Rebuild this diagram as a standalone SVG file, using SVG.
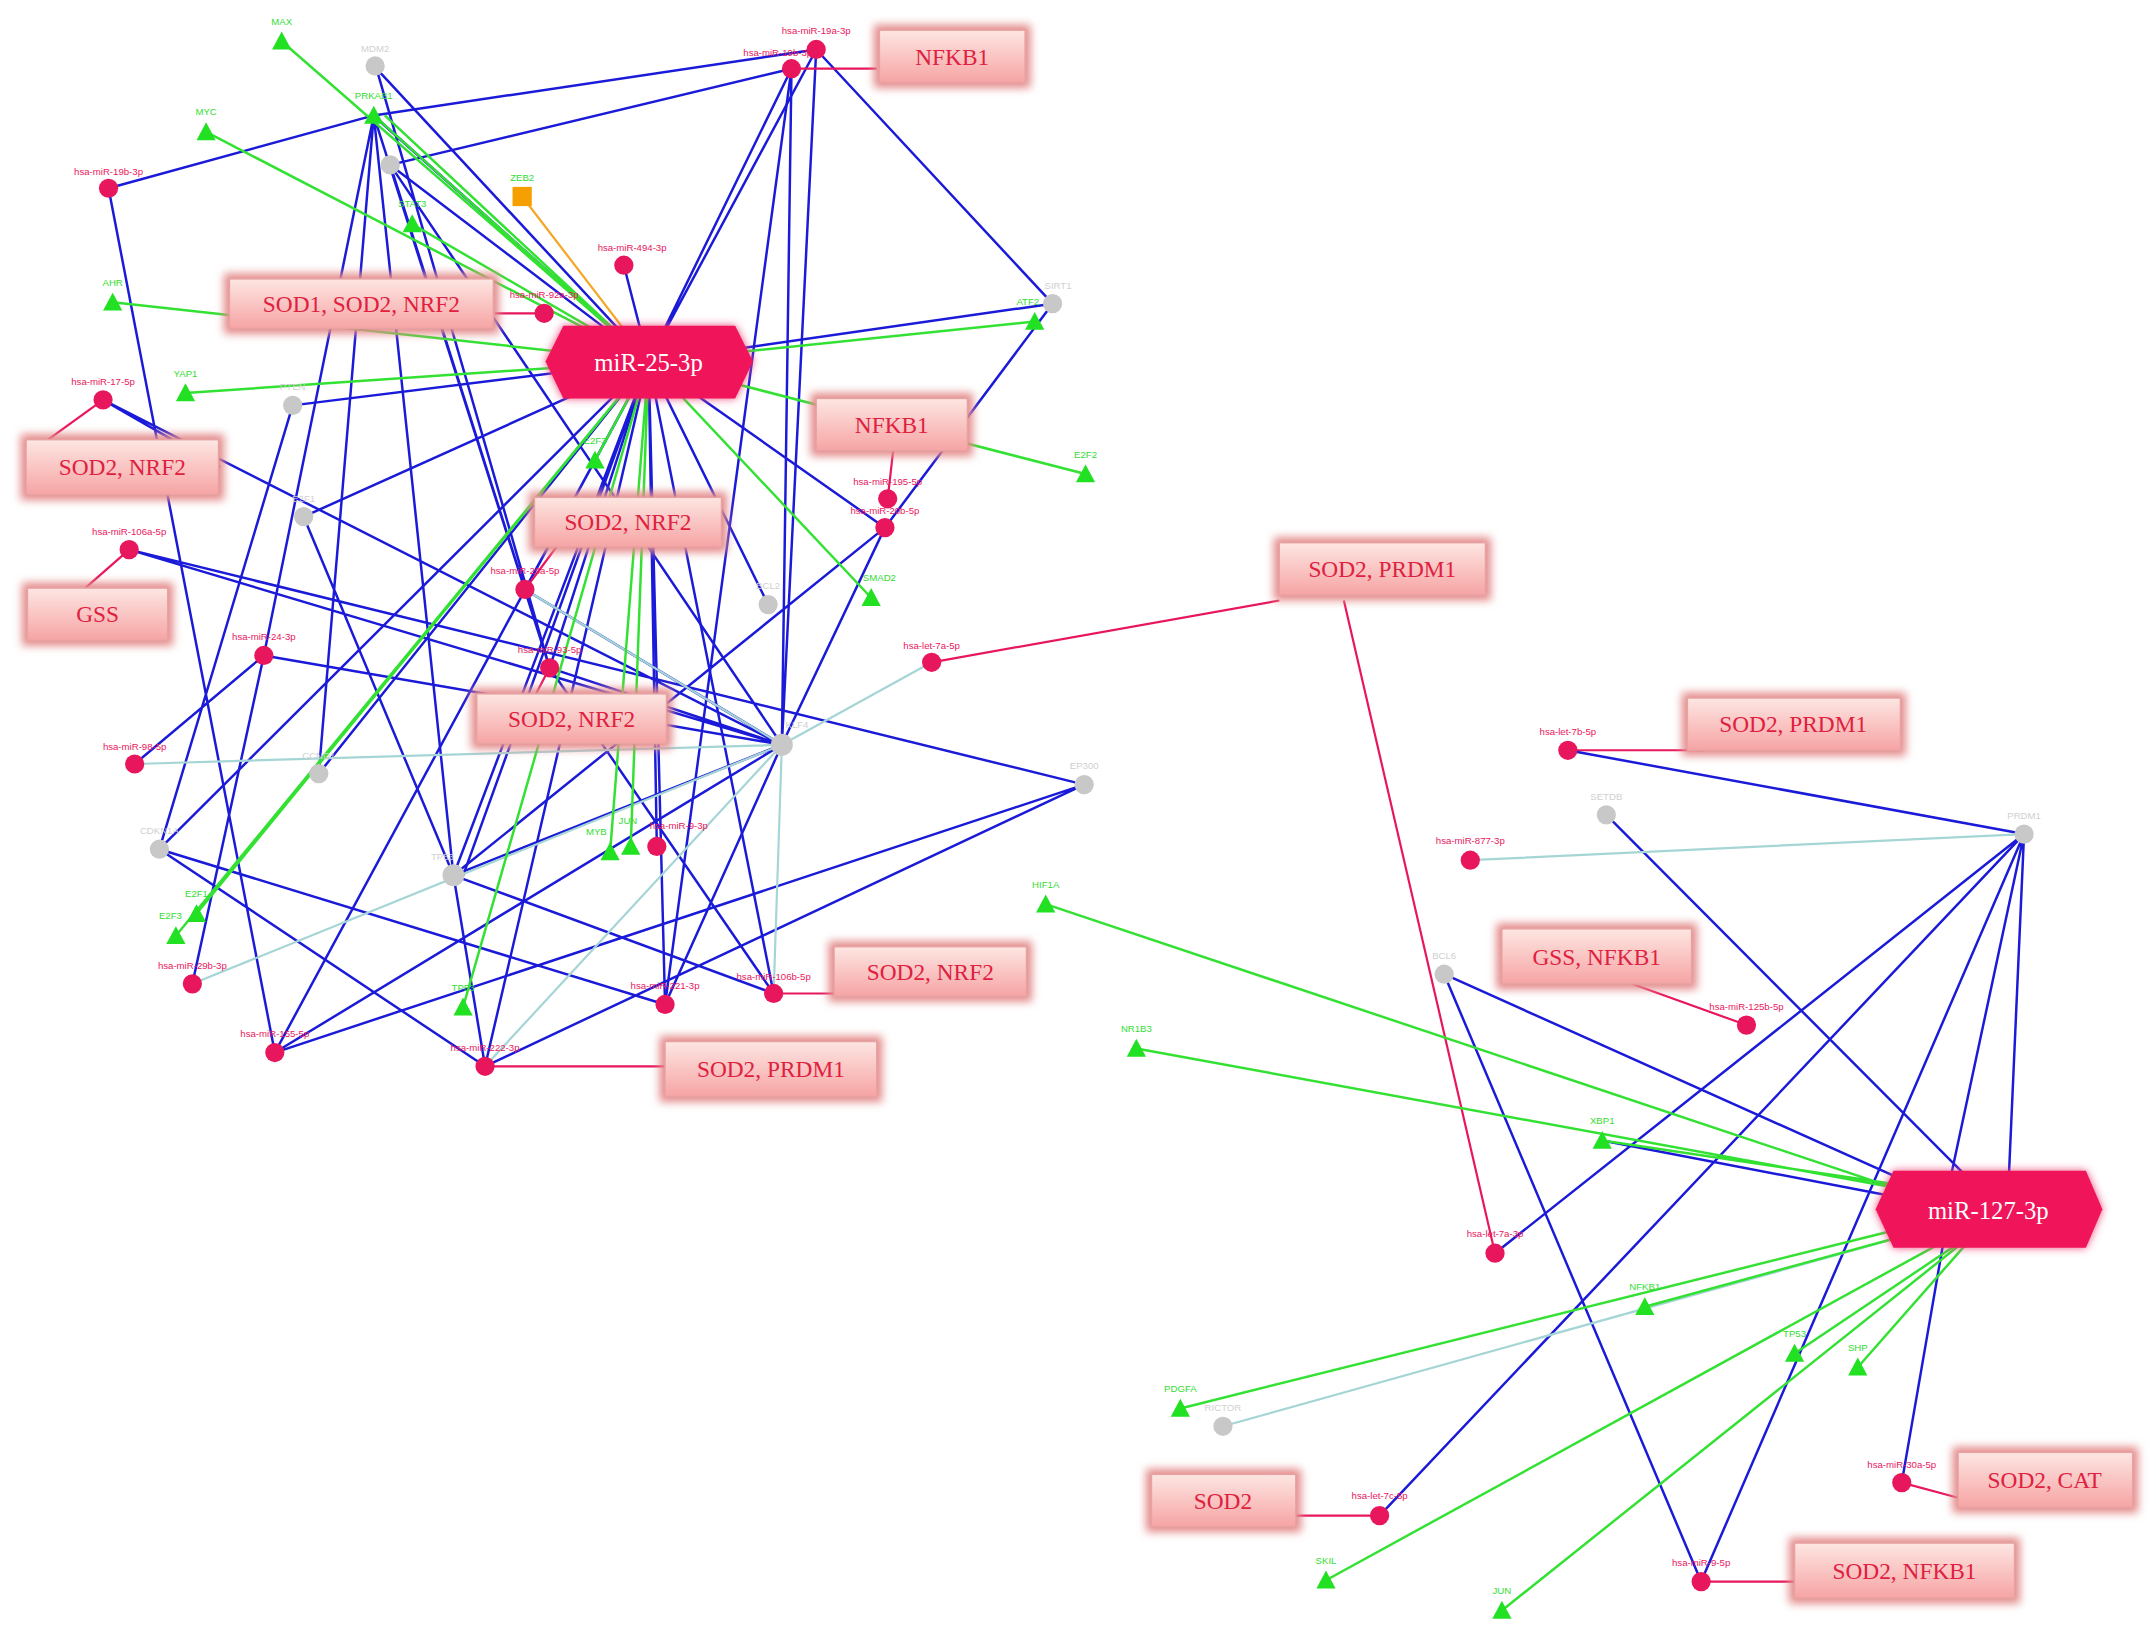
<svg xmlns="http://www.w3.org/2000/svg" width="2149" height="1635" viewBox="0 0 2149 1635">
<defs>
<linearGradient id="bx" x1="0" y1="0" x2="0" y2="1"><stop offset="0" stop-color="#fde6e2"/><stop offset="1" stop-color="#f6a4a4"/></linearGradient>
<filter id="glow" x="-20%" y="-40%" width="140%" height="180%"><feGaussianBlur stdDeviation="3"/></filter>
<style>
.b{stroke:#1a1ad8;stroke-width:1.8;fill:none}
.g{stroke:#33e133;stroke-width:1.8;fill:none}
.p{stroke:#e8175d;stroke-width:1.6;fill:none}
.l{stroke:#a6d5d5;stroke-width:1.6;fill:none}
.o{stroke:#f5a623;stroke-width:1.6;fill:none}
.bs{fill:#e48a8a;filter:url(#glow)}
.bf{fill:url(#bx);stroke:#e7a3a3;stroke-width:1}
.bt{font-family:"Liberation Serif",serif;font-size:17px;fill:#e0203f;text-anchor:middle}
.ht{font-family:"Liberation Serif",serif;font-size:18px;fill:#fff;text-anchor:middle}
.mi{fill:#e8175d}
.gr{fill:#c8c8c8}
.tf{fill:#22e022}
.sl{font-family:"Liberation Sans",sans-serif;font-size:7px;text-anchor:middle}
.sm{fill:#e8175d}.sg{fill:#d0d0d0}.st{fill:#33dd33}
</style>
</defs>
<g transform="scale(1.3741)">
<rect x="0" y="0" width="1564" height="1190" fill="#fff"/>
<g id="connectors">
<path class="b" d="M272,84L472,263M276,88L472,263M284,120L472,263M274,50L472,263M594,36L472,263M576,50L472,263M454,193L472,263M766,221L472,263M213,295L472,263M221,376L472,263M559,440L472,263M382,429L472,263M400,486L472,263M330,637L472,263M336,640L472,263M116,618L472,263M353,776L472,263M200,766L472,263M484,731L472,263M563,723L472,263M478,616L472,263M644,384L472,263M232,563L472,263"/>
<path class="b" d="M272,84L594,36M272,84L79,137M272,84L192,477M272,84L330,637M272,84L400,486M272,84L232,563M284,120L576,50M284,120L569,542M284,120L382,429M274,50L400,486M594,36L766,221M594,36L569,542M576,50L569,542M576,50L484,731M766,221L644,384M79,137L200,766M75,291L569,542M94,400L569,542M94,400L789,571M192,477L569,542M192,477L98,556M192,477L140,716M382,429L569,542M400,486L569,542M221,376L330,637M213,295L116,618M644,384L569,542M644,384L330,637M569,542L200,766M569,542L484,731M569,542L330,637M789,571L353,776M789,571L200,766M116,618L484,731M116,618L353,776M330,637L563,723M330,637L353,776M75,291L160,340M400,486L563,723"/>
<path class="l" d="M569,542L678,482M569,542L98,556M569,542L140,716M569,542L353,776M569,542L563,723M569,542L382,429"/>
<path class="o" d="M380,143L472,263"/>
<path class="g" d="M205,30L472,263M272,84L472,263M280,84L472,263M150,96L472,263M300,163L472,263M82,220L472,263M135,286L472,263M753,234L472,263M790,345L472,263M433,335L472,263M634,435L472,263M143,665L472,263M128,681L472,263M337,733L472,263M444,620L472,263M459,616L472,263"/>
<path class="p" d="M638,50L576,50M360,228L396,228M35,320L75,291M62,428L94,400M650,328L646,363M405,398L382,429M390,505L400,486M931,437L678,482M978,437L1088,912M607,723L563,723M484,776L353,776M1240,546L1141,546M1185,715L1271,746M1425,1090L1384,1079M943,1103L1004,1103M1306,1151L1238,1151"/>
<path class="b" d="M1473,607L1141,546M1473,607L1088,912M1473,607L1004,1103M1473,607L1238,1151M1473,607L1420,855M1473,607L1462,855M1169,593L1430,855M1051,709L1410,870M1051,709L1238,1151M1166,830L1400,875M1384,1079L1415,900"/>
<path class="l" d="M1473,607L1070,626M890,1038L1420,890"/>
<path class="g" d="M761,658L1410,875M827,763L1410,870M1166,830L1400,865M1197,951L1420,890M859,1025L1400,890M965,1150L1430,895M1093,1172L1440,895M1306,985L1440,895M1352,995L1440,895"/>
</g>
<g id="hub-miR-25-3p"><polygon points="397,263 410,237 535,237 548,263 535,290 410,290" fill="#ee4d7d" filter="url(#glow)"/><polygon points="397,263 410,237 535,237 548,263 535,290 410,290" fill="#f0145a"/><text class="ht" x="472" y="270">miR-25-3p</text></g>
<g id="hub-miR-127-3p"><polygon points="1365,880 1378,852 1518,852 1530,880 1518,908 1378,908" fill="#ee4d7d" filter="url(#glow)"/><polygon points="1365,880 1378,852 1518,852 1530,880 1518,908 1378,908" fill="#f0145a"/><text class="ht" x="1447" y="887">miR-127-3p</text></g>
<g id="boxes">
<g id="b1"><rect class="bs" x="636" y="18" width="114" height="46"/><rect class="bf" x="640" y="22" width="106" height="38"/><text class="bt" x="693" y="47">NFKB1</text></g>
<g id="b2"><rect class="bs" x="163" y="199" width="200" height="44"/><rect class="bf" x="167" y="203" width="192" height="36"/><text class="bt" x="263" y="227">SOD1, SOD2, NRF2</text></g>
<g id="b3"><rect class="bs" x="15" y="316" width="148" height="48"/><rect class="bf" x="19" y="320" width="140" height="40"/><text class="bt" x="89" y="346">SOD2, NRF2</text></g>
<g id="b4"><rect class="bs" x="16" y="424" width="110" height="46"/><rect class="bf" x="20" y="428" width="102" height="38"/><text class="bt" x="71" y="453">GSS</text></g>
<g id="b5"><rect class="bs" x="590" y="286" width="118" height="46"/><rect class="bf" x="594" y="290" width="110" height="38"/><text class="bt" x="649" y="315">NFKB1</text></g>
<g id="b6"><rect class="bs" x="385" y="358" width="144" height="44"/><rect class="bf" x="389" y="362" width="136" height="36"/><text class="bt" x="457" y="386">SOD2, NRF2</text></g>
<g id="b7"><rect class="bs" x="343" y="501" width="146" height="44"/><rect class="bf" x="347" y="505" width="138" height="36"/><text class="bt" x="416" y="529">SOD2, NRF2</text></g>
<g id="b8"><rect class="bs" x="927" y="391" width="158" height="46"/><rect class="bf" x="931" y="395" width="150" height="38"/><text class="bt" x="1006" y="420">SOD2, PRDM1</text></g>
<g id="b9"><rect class="bs" x="603" y="685" width="148" height="44"/><rect class="bf" x="607" y="689" width="140" height="36"/><text class="bt" x="677" y="713">SOD2, NRF2</text></g>
<g id="b10"><rect class="bs" x="480" y="754" width="162" height="48"/><rect class="bf" x="484" y="758" width="154" height="40"/><text class="bt" x="561" y="784">SOD2, PRDM1</text></g>
<g id="b11"><rect class="bs" x="1224" y="504" width="163" height="46"/><rect class="bf" x="1228" y="508" width="155" height="38"/><text class="bt" x="1305" y="533">SOD2, PRDM1</text></g>
<g id="b12"><rect class="bs" x="1089" y="672" width="146" height="48"/><rect class="bf" x="1093" y="676" width="138" height="40"/><text class="bt" x="1162" y="702">GSS, NFKB1</text></g>
<g id="b13"><rect class="bs" x="1421" y="1053" width="135" height="48"/><rect class="bf" x="1425" y="1057" width="127" height="40"/><text class="bt" x="1488" y="1083">SOD2, CAT</text></g>
<g id="b14"><rect class="bs" x="834" y="1069" width="113" height="46"/><rect class="bf" x="838" y="1073" width="105" height="38"/><text class="bt" x="890" y="1098">SOD2</text></g>
<g id="b15"><rect class="bs" x="1302" y="1119" width="168" height="48"/><rect class="bf" x="1306" y="1123" width="160" height="40"/><text class="bt" x="1386" y="1149">SOD2, NFKB1</text></g>
</g>
<g id="mirnas">
<circle class="mi" cx="594" cy="36" r="7"/><text class="sl sm" x="594" y="25">hsa-miR-19a-3p</text>
<circle class="mi" cx="576" cy="50" r="7"/><text class="sl sm" x="566" y="41">hsa-miR-19b-3p</text>
<circle class="mi" cx="79" cy="137" r="7"/><text class="sl sm" x="79" y="127">hsa-miR-19b-3p</text>
<circle class="mi" cx="454" cy="193" r="7"/><text class="sl sm" x="460" y="183">hsa-miR-494-3p</text>
<circle class="mi" cx="396" cy="228" r="7"/><text class="sl sm" x="396" y="217">hsa-miR-92a-3p</text>
<circle class="mi" cx="75" cy="291" r="7"/><text class="sl sm" x="75" y="280">hsa-miR-17-5p</text>
<circle class="mi" cx="94" cy="400" r="7"/><text class="sl sm" x="94" y="389">hsa-miR-106a-5p</text>
<circle class="mi" cx="646" cy="363" r="7"/><text class="sl sm" x="646" y="353">hsa-miR-195-5p</text>
<circle class="mi" cx="644" cy="384" r="7"/><text class="sl sm" x="644" y="374">hsa-miR-20b-5p</text>
<circle class="mi" cx="382" cy="429" r="7"/><text class="sl sm" x="382" y="418">hsa-miR-20a-5p</text>
<circle class="mi" cx="400" cy="486" r="7"/><text class="sl sm" x="400" y="475">hsa-miR-93-5p</text>
<circle class="mi" cx="678" cy="482" r="7"/><text class="sl sm" x="678" y="472">hsa-let-7a-5p</text>
<circle class="mi" cx="192" cy="477" r="7"/><text class="sl sm" x="192" y="466">hsa-miR-24-3p</text>
<circle class="mi" cx="98" cy="556" r="7"/><text class="sl sm" x="98" y="546">hsa-miR-98-5p</text>
<circle class="mi" cx="478" cy="616" r="7"/><text class="sl sm" x="494" y="603">hsa-miR-9-3p</text>
<circle class="mi" cx="140" cy="716" r="7"/><text class="sl sm" x="140" y="705">hsa-miR-29b-3p</text>
<circle class="mi" cx="484" cy="731" r="7"/><text class="sl sm" x="484" y="720">hsa-miR-221-3p</text>
<circle class="mi" cx="563" cy="723" r="7"/><text class="sl sm" x="563" y="713">hsa-miR-106b-5p</text>
<circle class="mi" cx="200" cy="766" r="7"/><text class="sl sm" x="200" y="755">hsa-miR-155-5p</text>
<circle class="mi" cx="353" cy="776" r="7"/><text class="sl sm" x="353" y="765">hsa-miR-222-3p</text>
<circle class="mi" cx="1141" cy="546" r="7"/><text class="sl sm" x="1141" y="535">hsa-let-7b-5p</text>
<circle class="mi" cx="1070" cy="626" r="7"/><text class="sl sm" x="1070" y="614">hsa-miR-877-3p</text>
<circle class="mi" cx="1271" cy="746" r="7"/><text class="sl sm" x="1271" y="735">hsa-miR-125b-5p</text>
<circle class="mi" cx="1088" cy="912" r="7"/><text class="sl sm" x="1088" y="900">hsa-let-7a-3p</text>
<circle class="mi" cx="1004" cy="1103" r="7"/><text class="sl sm" x="1004" y="1091">hsa-let-7c-5p</text>
<circle class="mi" cx="1238" cy="1151" r="7"/><text class="sl sm" x="1238" y="1140">hsa-miR-9-5p</text>
<circle class="mi" cx="1384" cy="1079" r="7"/><text class="sl sm" x="1384" y="1068">hsa-miR-30a-5p</text>
</g>
<g id="genes">
<circle class="gr" cx="273" cy="48" r="7"/><text class="sl sg" x="273" y="38">MDM2</text>
<circle class="gr" cx="284" cy="120" r="7"/>
<circle class="gr" cx="213" cy="295" r="7"/><text class="sl sg" x="213" y="284">PTEN</text>
<circle class="gr" cx="221" cy="376" r="7"/><text class="sl sg" x="221" y="365">E2F1</text>
<circle class="gr" cx="559" cy="440" r="7"/><text class="sl sg" x="559" y="429">BCL2</text>
<circle class="gr" cx="232" cy="563" r="7"/><text class="sl sg" x="232" y="552">CCND1</text>
<circle class="gr" cx="116" cy="618" r="7"/><text class="sl sg" x="116" y="607">CDKN1A</text>
<circle class="gr" cx="330" cy="637" r="8"/><text class="sl sg" x="322" y="626">TP53</text>
<circle class="gr" cx="569" cy="542" r="8"/><text class="sl sg" x="580" y="530">KLF4</text>
<circle class="gr" cx="789" cy="571" r="7"/><text class="sl sg" x="789" y="560">EP300</text>
<circle class="gr" cx="766" cy="221" r="7"/><text class="sl sg" x="770" y="210">SIRT1</text>
<circle class="gr" cx="1169" cy="593" r="7"/><text class="sl sg" x="1169" y="582">SETDB</text>
<circle class="gr" cx="1473" cy="607" r="7"/><text class="sl sg" x="1473" y="596">PRDM1</text>
<circle class="gr" cx="1051" cy="709" r="7"/><text class="sl sg" x="1051" y="698">BCL6</text>
<circle class="gr" cx="890" cy="1038" r="7"/><text class="sl sg" x="890" y="1027">RICTOR</text>
</g>
<g id="zeb2"><rect x="373" y="136" width="14" height="14" fill="#f5a000"/><text class="sl st" x="380" y="132">ZEB2</text></g>
<g id="tfs">
<polygon class="tf" points="205,23 212,36 198,36"/><text class="sl st" x="205" y="18">MAX</text>
<polygon class="tf" points="272,77 279,90 265,90"/><text class="sl st" x="272" y="72">PRKAB1</text>
<polygon class="tf" points="150,89 157,102 143,102"/><text class="sl st" x="150" y="84">MYC</text>
<polygon class="tf" points="300,156 307,169 293,169"/><text class="sl st" x="300" y="151">STAT3</text>
<polygon class="tf" points="82,213 89,226 75,226"/><text class="sl st" x="82" y="208">AHR</text>
<polygon class="tf" points="135,279 142,292 128,292"/><text class="sl st" x="135" y="274">YAP1</text>
<polygon class="tf" points="753,227 760,240 746,240"/><text class="sl st" x="748" y="222">ATF2</text>
<polygon class="tf" points="790,338 797,351 783,351"/><text class="sl st" x="790" y="333">E2F2</text>
<polygon class="tf" points="433,328 440,341 426,341"/><text class="sl st" x="433" y="323">E2F3</text>
<polygon class="tf" points="634,428 641,441 627,441"/><text class="sl st" x="640" y="423">SMAD2</text>
<polygon class="tf" points="143,658 150,671 136,671"/><text class="sl st" x="143" y="653">E2F1</text>
<polygon class="tf" points="128,674 135,687 121,687"/><text class="sl st" x="124" y="669">E2F3</text>
<polygon class="tf" points="337,726 344,739 330,739"/><text class="sl st" x="337" y="721">TP53</text>
<polygon class="tf" points="444,613 451,626 437,626"/><text class="sl st" x="434" y="608">MYB</text>
<polygon class="tf" points="459,609 466,622 452,622"/><text class="sl st" x="457" y="600">JUN</text>
<polygon class="tf" points="761,651 768,664 754,664"/><text class="sl st" x="761" y="646">HIF1A</text>
<polygon class="tf" points="827,756 834,769 820,769"/><text class="sl st" x="827" y="751">NR1B3</text>
<polygon class="tf" points="1166,823 1173,836 1159,836"/><text class="sl st" x="1166" y="818">XBP1</text>
<polygon class="tf" points="1197,944 1204,957 1190,957"/><text class="sl st" x="1197" y="939">NFKB1</text>
<polygon class="tf" points="1306,978 1313,991 1299,991"/><text class="sl st" x="1306" y="973">TP53</text>
<polygon class="tf" points="1352,988 1359,1001 1345,1001"/><text class="sl st" x="1352" y="983">SHP</text>
<polygon class="tf" points="859,1018 866,1031 852,1031"/><text class="sl st" x="859" y="1013">PDGFA</text>
<polygon class="tf" points="965,1143 972,1156 958,1156"/><text class="sl st" x="965" y="1138">SKIL</text>
<polygon class="tf" points="1093,1165 1100,1178 1086,1178"/><text class="sl st" x="1093" y="1160">JUN</text>
</g>
</g>
</svg>
